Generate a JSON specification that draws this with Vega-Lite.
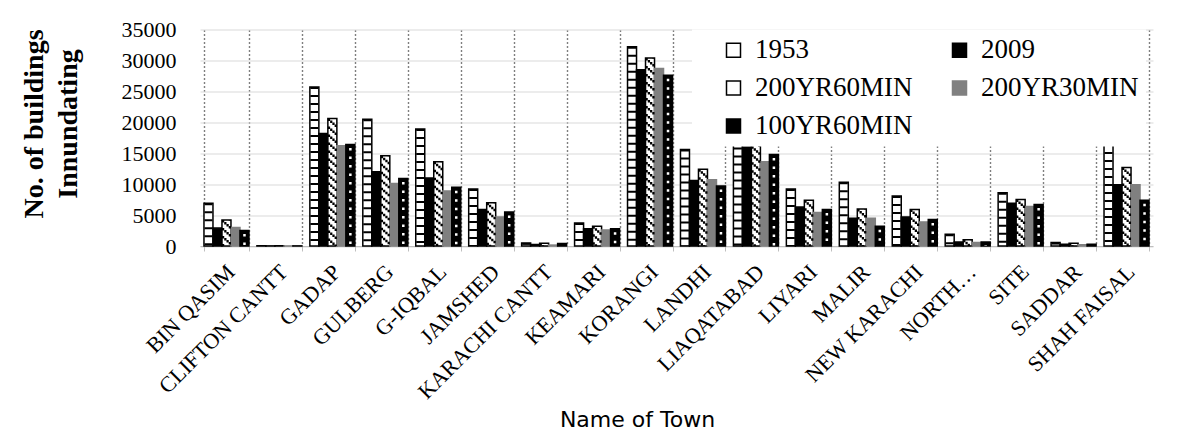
{
  "$schema": "https://vega.github.io/schema/vega-lite/v6.json",
  "autosize": {"type": "none"},
  "width": 953,
  "height": 216.5,
  "padding": {"left": 200, "top": 29.5, "right": 51, "bottom": 193},
  "background": "white",
  "config": {"view": {"stroke": null}},
  "data": {
    "values": [
      {"town": "BIN QASIM", "series": "1953", "value": 6900},
      {"town": "BIN QASIM", "series": "2009", "value": 2900},
      {"town": "BIN QASIM", "series": "200YR60MIN", "value": 4200},
      {"town": "BIN QASIM", "series": "200YR30MIN", "value": 3000},
      {"town": "BIN QASIM", "series": "100YR60MIN", "value": 2500},
      {"town": "CLIFTON CANTT", "series": "1953", "value": 60},
      {"town": "CLIFTON CANTT", "series": "2009", "value": 20},
      {"town": "CLIFTON CANTT", "series": "200YR60MIN", "value": 40},
      {"town": "CLIFTON CANTT", "series": "200YR30MIN", "value": 10},
      {"town": "CLIFTON CANTT", "series": "100YR60MIN", "value": 20},
      {"town": "GADAP", "series": "1953", "value": 25700},
      {"town": "GADAP", "series": "2009", "value": 18200},
      {"town": "GADAP", "series": "200YR60MIN", "value": 20600},
      {"town": "GADAP", "series": "200YR30MIN", "value": 16200},
      {"town": "GADAP", "series": "100YR60MIN", "value": 16400},
      {"town": "GULBERG", "series": "1953", "value": 20500},
      {"town": "GULBERG", "series": "2009", "value": 12000},
      {"town": "GULBERG", "series": "200YR60MIN", "value": 14600},
      {"town": "GULBERG", "series": "200YR30MIN", "value": 10100},
      {"town": "GULBERG", "series": "100YR60MIN", "value": 10900},
      {"town": "G-IQBAL", "series": "1953", "value": 18900},
      {"town": "G-IQBAL", "series": "2009", "value": 11000},
      {"town": "G-IQBAL", "series": "200YR60MIN", "value": 13600},
      {"town": "G-IQBAL", "series": "200YR30MIN", "value": 8900},
      {"town": "G-IQBAL", "series": "100YR60MIN", "value": 9500},
      {"town": "JAMSHED", "series": "1953", "value": 9200},
      {"town": "JAMSHED", "series": "2009", "value": 5900},
      {"town": "JAMSHED", "series": "200YR60MIN", "value": 7000},
      {"town": "JAMSHED", "series": "200YR30MIN", "value": 4700},
      {"town": "JAMSHED", "series": "100YR60MIN", "value": 5500},
      {"town": "KARACHI CANTT", "series": "1953", "value": 500},
      {"town": "KARACHI CANTT", "series": "2009", "value": 250},
      {"town": "KARACHI CANTT", "series": "200YR60MIN", "value": 450},
      {"town": "KARACHI CANTT", "series": "200YR30MIN", "value": 150},
      {"town": "KARACHI CANTT", "series": "100YR60MIN", "value": 400},
      {"town": "KEAMARI", "series": "1953", "value": 3700},
      {"town": "KEAMARI", "series": "2009", "value": 2800},
      {"town": "KEAMARI", "series": "200YR60MIN", "value": 3200},
      {"town": "KEAMARI", "series": "200YR30MIN", "value": 2600},
      {"town": "KEAMARI", "series": "100YR60MIN", "value": 2800},
      {"town": "KORANGI", "series": "1953", "value": 32200},
      {"town": "KORANGI", "series": "2009", "value": 28500},
      {"town": "KORANGI", "series": "200YR60MIN", "value": 30400},
      {"town": "KORANGI", "series": "200YR30MIN", "value": 28700},
      {"town": "KORANGI", "series": "100YR60MIN", "value": 27600},
      {"town": "LANDHI", "series": "1953", "value": 15600},
      {"town": "LANDHI", "series": "2009", "value": 10600},
      {"town": "LANDHI", "series": "200YR60MIN", "value": 12400},
      {"town": "LANDHI", "series": "200YR30MIN", "value": 10700},
      {"town": "LANDHI", "series": "100YR60MIN", "value": 9700},
      {"town": "LIAQATABAD", "series": "1953", "value": 19800},
      {"town": "LIAQATABAD", "series": "2009", "value": 16000},
      {"town": "LIAQATABAD", "series": "200YR60MIN", "value": 17400},
      {"town": "LIAQATABAD", "series": "200YR30MIN", "value": 13600},
      {"town": "LIAQATABAD", "series": "100YR60MIN", "value": 14800},
      {"town": "LIYARI", "series": "1953", "value": 9200},
      {"town": "LIYARI", "series": "2009", "value": 6300},
      {"town": "LIYARI", "series": "200YR60MIN", "value": 7400},
      {"town": "LIYARI", "series": "200YR30MIN", "value": 5400},
      {"town": "LIYARI", "series": "100YR60MIN", "value": 5900},
      {"town": "MALIR", "series": "1953", "value": 10300},
      {"town": "MALIR", "series": "2009", "value": 4500},
      {"town": "MALIR", "series": "200YR60MIN", "value": 6000},
      {"town": "MALIR", "series": "200YR30MIN", "value": 4500},
      {"town": "MALIR", "series": "100YR60MIN", "value": 3200},
      {"town": "NEW KARACHI", "series": "1953", "value": 8100},
      {"town": "NEW KARACHI", "series": "2009", "value": 4700},
      {"town": "NEW KARACHI", "series": "200YR60MIN", "value": 5900},
      {"town": "NEW KARACHI", "series": "200YR30MIN", "value": 3900},
      {"town": "NEW KARACHI", "series": "100YR60MIN", "value": 4300},
      {"town": "NORTH…", "series": "1953", "value": 1900},
      {"town": "NORTH…", "series": "2009", "value": 650},
      {"town": "NORTH…", "series": "200YR60MIN", "value": 1000},
      {"town": "NORTH…", "series": "200YR30MIN", "value": 550},
      {"town": "NORTH…", "series": "100YR60MIN", "value": 650},
      {"town": "SITE", "series": "1953", "value": 8600},
      {"town": "SITE", "series": "2009", "value": 6900},
      {"town": "SITE", "series": "200YR60MIN", "value": 7500},
      {"town": "SITE", "series": "200YR30MIN", "value": 6400},
      {"town": "SITE", "series": "100YR60MIN", "value": 6700},
      {"town": "SADDAR", "series": "1953", "value": 550},
      {"town": "SADDAR", "series": "2009", "value": 300},
      {"town": "SADDAR", "series": "200YR60MIN", "value": 450},
      {"town": "SADDAR", "series": "200YR30MIN", "value": 200},
      {"town": "SADDAR", "series": "100YR60MIN", "value": 300},
      {"town": "SHAH FAISAL", "series": "1953", "value": 17800},
      {"town": "SHAH FAISAL", "series": "2009", "value": 9900},
      {"town": "SHAH FAISAL", "series": "200YR60MIN", "value": 12700},
      {"town": "SHAH FAISAL", "series": "200YR30MIN", "value": 9900},
      {"town": "SHAH FAISAL", "series": "100YR60MIN", "value": 7400}
    ]
  },
  "encoding": {
    "x": {
      "field": "town",
      "type": "nominal",
      "sort": ["BIN QASIM", "CLIFTON CANTT", "GADAP", "GULBERG", "G-IQBAL", "JAMSHED", "KARACHI CANTT", "KEAMARI", "KORANGI", "LANDHI", "LIAQATABAD", "LIYARI", "MALIR", "NEW KARACHI", "NORTH…", "SITE", "SADDAR", "SHAH FAISAL"],
      "scale": {"paddingInner": 0.15, "paddingOuter": 0.075},
      "axis": {
        "title": "Name of Town",
        "titleFont": "DejaVu Sans",
        "titleFontSize": 22,
        "titleFontWeight": "normal",
        "titleColor": "#000000",
        "titleX": 437,
        "titleY": 180,
        "titleAlign": "center",
        "titleBaseline": "alphabetic",
        "labelAngle": -45,
        "labelFont": "Liberation Serif",
        "labelFontSize": 22,
        "labelColor": "#000000",
        "labelPadding": 10,
        "labelOffset": -3,
        "labelLimit": 300,
        "tickBand": "extent",
        "tickSize": 5,
        "tickColor": "#bfbfbf",
        "domainColor": "#bfbfbf",
        "domainWidth": 1.2,
        "grid": true,
        "gridColor": "#7f7f7f",
        "gridDash": [2, 2],
        "gridWidth": 1.4
      }
    },
    "y": {
      "field": "value",
      "type": "quantitative",
      "scale": {"domain": [0, 35000]},
      "axis": {
        "values": [0, 5000, 10000, 15000, 20000, 25000, 30000, 35000],
        "format": "d",
        "title": ["No. of buildings", "Innundating"],
        "titleFont": "Liberation Serif",
        "titleFontSize": 28,
        "titleFontWeight": "bold",
        "titleColor": "#000000",
        "titleAngle": -90,
        "titleAlign": "center",
        "titleBaseline": "alphabetic",
        "titleLineHeight": 34,
        "titleX": -158,
        "titleY": 94,
        "labelFont": "Liberation Serif",
        "labelFontSize": 22,
        "labelColor": "#000000",
        "labelPadding": 24,
        "ticks": false,
        "domain": false,
        "grid": true,
        "gridColor": "#d9d9d9",
        "gridWidth": 1.2
      }
    }
  },
  "layer": [
    {
      "mark": {"type": "bar", "strokeWidth": 1.5},
      "encoding": {
        "xOffset": {
          "field": "series",
          "type": "nominal",
          "sort": ["1953", "2009", "200YR60MIN", "200YR30MIN", "100YR60MIN"],
          "scale": {"paddingInner": 0, "paddingOuter": 0}
        },
        "fill": {
          "field": "series",
          "type": "nominal",
          "scale": {
            "domain": ["1953", "2009", "200YR60MIN", "200YR30MIN", "100YR60MIN"],
            "range": ["#ffffff", "#000000", "#ffffff", "#808080", "#000000"]
          },
          "legend": {
            "title": null,
            "orient": "none",
            "legendX": 492,
            "legendY": 0,
            "direction": "horizontal",
            "columns": 2,
            "columnPadding": 12,
            "rowPadding": 10,
            "padding": 7,
            "fillColor": "#ffffff",
            "symbolType": "square",
            "symbolSize": 196,
            "symbolStrokeWidth": 1.5,
            "symbolOffset": 21,
            "labelFont": "Liberation Serif",
            "labelFontSize": 27,
            "labelColor": "#000000",
            "labelOffset": 8,
            "labelLimit": 300,
            "zindex": 1
          }
        },
        "stroke": {
          "field": "series",
          "type": "nominal",
          "scale": {
            "domain": ["1953", "2009", "200YR60MIN", "200YR30MIN", "100YR60MIN"],
            "range": ["#000000", "#000000", "#000000", "#808080", "#000000"]
          },
          "legend": {
            "title": null,
            "orient": "none",
            "legendX": 492,
            "legendY": 0,
            "direction": "horizontal",
            "columns": 2,
            "columnPadding": 12,
            "rowPadding": 10,
            "padding": 7,
            "fillColor": "#ffffff",
            "symbolType": "square",
            "symbolSize": 196,
            "symbolStrokeWidth": 1.5,
            "symbolOffset": 21,
            "labelFont": "Liberation Serif",
            "labelFontSize": 27,
            "labelColor": "#000000",
            "labelOffset": 8,
            "labelLimit": 300,
            "zindex": 1
          }
        }
      }
    },
    {
      "transform": [{"filter": "datum.series === '1953'"}],
      "mark": {"type": "rule", "color": "#000000", "strokeWidth": 8, "strokeDash": [2, 6]},
      "encoding": {
        "x": {"field": "town", "type": "nominal", "sort": ["BIN QASIM", "CLIFTON CANTT", "GADAP", "GULBERG", "G-IQBAL", "JAMSHED", "KARACHI CANTT", "KEAMARI", "KORANGI", "LANDHI", "LIAQATABAD", "LIYARI", "MALIR", "NEW KARACHI", "NORTH…", "SITE", "SADDAR", "SHAH FAISAL"], "bandPosition": 0.1},
        "y2": {"datum": 0}
      }
    },
    {
      "transform": [{"filter": "datum.series === '200YR60MIN'"}],
      "mark": {"type": "rule", "color": "#000000", "strokeWidth": 2.25, "strokeDash": [2.5, 5.5], "strokeDashOffset": 0},
      "encoding": {
        "x": {"field": "town", "type": "nominal", "sort": ["BIN QASIM", "CLIFTON CANTT", "GADAP", "GULBERG", "G-IQBAL", "JAMSHED", "KARACHI CANTT", "KEAMARI", "KORANGI", "LANDHI", "LIAQATABAD", "LIYARI", "MALIR", "NEW KARACHI", "NORTH…", "SITE", "SADDAR", "SHAH FAISAL"], "bandPosition": 0.425},
        "y2": {"datum": 0}
      }
    },
    {
      "transform": [{"filter": "datum.series === '200YR60MIN'"}],
      "mark": {"type": "rule", "color": "#000000", "strokeWidth": 2.25, "strokeDash": [2.5, 5.5], "strokeDashOffset": 6},
      "encoding": {
        "x": {"field": "town", "type": "nominal", "sort": ["BIN QASIM", "CLIFTON CANTT", "GADAP", "GULBERG", "G-IQBAL", "JAMSHED", "KARACHI CANTT", "KEAMARI", "KORANGI", "LANDHI", "LIAQATABAD", "LIYARI", "MALIR", "NEW KARACHI", "NORTH…", "SITE", "SADDAR", "SHAH FAISAL"], "bandPosition": 0.475},
        "y2": {"datum": 0}
      }
    },
    {
      "transform": [{"filter": "datum.series === '200YR60MIN'"}],
      "mark": {"type": "rule", "color": "#000000", "strokeWidth": 2.25, "strokeDash": [2.5, 5.5], "strokeDashOffset": 4},
      "encoding": {
        "x": {"field": "town", "type": "nominal", "sort": ["BIN QASIM", "CLIFTON CANTT", "GADAP", "GULBERG", "G-IQBAL", "JAMSHED", "KARACHI CANTT", "KEAMARI", "KORANGI", "LANDHI", "LIAQATABAD", "LIYARI", "MALIR", "NEW KARACHI", "NORTH…", "SITE", "SADDAR", "SHAH FAISAL"], "bandPosition": 0.525},
        "y2": {"datum": 0}
      }
    },
    {
      "transform": [{"filter": "datum.series === '200YR60MIN'"}],
      "mark": {"type": "rule", "color": "#000000", "strokeWidth": 2.25, "strokeDash": [2.5, 5.5], "strokeDashOffset": 2},
      "encoding": {
        "x": {"field": "town", "type": "nominal", "sort": ["BIN QASIM", "CLIFTON CANTT", "GADAP", "GULBERG", "G-IQBAL", "JAMSHED", "KARACHI CANTT", "KEAMARI", "KORANGI", "LANDHI", "LIAQATABAD", "LIYARI", "MALIR", "NEW KARACHI", "NORTH…", "SITE", "SADDAR", "SHAH FAISAL"], "bandPosition": 0.575},
        "y2": {"datum": 0}
      }
    },
    {
      "transform": [{"filter": "datum.series === '100YR60MIN'"}],
      "mark": {"type": "rule", "color": "#ffffff", "strokeWidth": 2.5, "strokeDash": [2.5, 6], "strokeDashOffset": 5},
      "encoding": {
        "x": {"field": "town", "type": "nominal", "sort": ["BIN QASIM", "CLIFTON CANTT", "GADAP", "GULBERG", "G-IQBAL", "JAMSHED", "KARACHI CANTT", "KEAMARI", "KORANGI", "LANDHI", "LIAQATABAD", "LIYARI", "MALIR", "NEW KARACHI", "NORTH…", "SITE", "SADDAR", "SHAH FAISAL"], "bandPosition": 0.9},
        "y2": {"datum": 0}
      }
    }
  ]
}
